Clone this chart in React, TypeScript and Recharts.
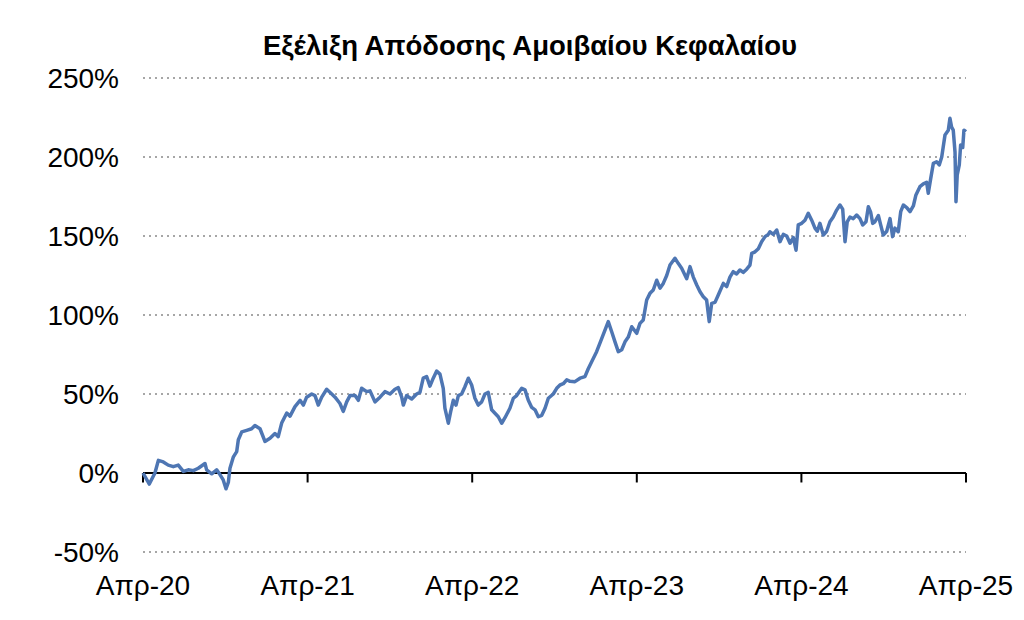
import { LineChart, Line, XAxis, YAxis, CartesianGrid, ReferenceLine } from "recharts";

const title = "Εξέλιξη Απόδοσης Αμοιβαίου Κεφαλαίου";

// months since Apr-20
const months = [
  0, 0.46, 0.87, 1.12, 1.48, 1.84, 2.21, 2.57, 2.94, 3.3, 3.67, 4.03, 4.52, 4.64, 5.01, 5.37, 5.61, 5.85, 6.05, 6.22,
  6.34, 6.58, 6.83, 6.95, 7.2, 7.56, 7.92, 8.16, 8.53, 8.89, 9.26, 9.62, 9.86, 10.11, 10.48,
  10.72, 11.08, 11.45, 11.69, 11.93, 12.3, 12.54, 12.78, 13.03, 13.39, 13.76, 14.0, 14.36, 14.6, 14.85, 15.09, 15.46,
  15.7, 15.94, 16.31, 16.55, 16.91, 17.28, 17.64, 18.01, 18.37, 18.61, 18.86, 18.98, 19.22, 19.59, 19.95, 20.19, 20.43,
  20.68, 20.92, 21.16, 21.41, 21.65,
  21.89, 22.01, 22.26, 22.43, 22.62, 22.82, 22.99, 23.23, 23.47, 23.72, 23.96, 24.2, 24.44, 24.69, 24.93, 25.17, 25.42,
  25.66, 25.9, 26.15, 26.39, 26.75, 27.0, 27.24, 27.61, 27.85, 28.09, 28.34, 28.58, 28.82, 29.07, 29.31, 29.55, 29.91,
  30.16, 30.4, 30.64, 30.89,
  31.13, 31.49, 31.86, 32.22, 32.46, 32.71, 33.07, 33.44, 33.68, 33.92, 34.17, 34.41, 34.65, 34.9, 35.14, 35.38, 35.63,
  35.99, 36.23, 36.47, 36.72, 36.96, 37.2, 37.45, 37.69, 37.93, 38.18, 38.42, 38.78, 39.02, 39.27, 39.64, 39.88, 40.12,
  40.37, 40.61, 40.85, 41.09, 41.28, 41.46, 41.7, 41.94,
  42.31, 42.55, 42.79, 43.03, 43.28, 43.52, 43.76, 44.01, 44.25, 44.38, 44.62, 44.86, 45.1, 45.35, 45.59, 45.71, 45.95,
  46.2, 46.44, 46.68, 46.93, 47.17, 47.41, 47.61, 47.77, 48.02, 48.26, 48.5, 48.75, 48.99, 49.16, 49.35, 49.6, 49.84,
  50.08, 50.32, 50.57, 50.81,
  51.01, 51.18, 51.34, 51.54, 51.78, 52.03, 52.27, 52.47, 52.71, 52.88, 53.05, 53.2, 53.36, 53.61, 53.78, 53.97, 54.22,
  54.46, 54.65, 54.82, 55.06, 55.24, 55.43, 55.68, 55.92, 56.16, 56.35, 56.64, 56.89, 57.13, 57.25, 57.42, 57.62, 57.86,
  58.05, 58.23, 58.47, 58.71, 58.83, 58.95, 59.07, 59.2, 59.27, 59.36, 59.51, 59.61, 59.76, 59.85, 60,
];

// cumulative return, %
const returns = [
  0, -7, 0, 8, 7, 5, 4, 5, 1, 2, 1.5, 3, 6, 2, -0.5, 2, -1, -4.4, -10, -6,
  3, 10, 13.5, 21, 26, 27, 28, 30, 28, 20, 22, 25, 23, 31.6, 38,
  36, 42, 46, 43, 48, 50, 49, 43, 48, 53, 50, 48, 44, 39, 45, 49, 49,
  46, 53.6, 51.5, 52, 45, 48, 51.5, 50, 53, 54, 48, 43, 49, 46.8, 50, 51, 60,
  61, 55, 60, 64.5, 62.6,
  53.6, 41, 31.5, 38.8, 46, 43, 49, 50, 54.6, 60, 55.7, 47.3, 43, 45, 50, 51, 40,
  37.8, 35.6, 31.5, 35, 41, 47.3, 49, 53.6, 52.6, 46, 41.5, 40, 35.6, 36.5, 41, 47.3, 50,
  53.6, 55.7, 56.5, 59,
  58, 57.8, 60, 61, 66, 70.4, 76.8, 85, 90.5, 95.8, 89.4, 83, 76.8, 78, 83, 86, 92.6,
  88.4, 94.7, 96.8, 109.5, 113.7, 115.8, 122, 117, 120, 125, 131.6, 135.9, 132.7, 129.6, 123, 130.6, 124,
  119, 114.7, 111.6, 109.5, 95.8, 107.4, 108, 112.6,
  120, 118, 124, 127.4, 126, 128.5, 127, 129, 131.6, 139, 140, 142, 146.4, 149.6, 151, 152.7, 151,
  153.8, 146.4, 151, 150, 145.4, 149, 141, 157, 158, 160, 164.4, 160, 155, 153, 158, 150.6, 153,
  159, 162, 166.4, 169.6,
  167, 146.4, 159, 162, 161, 163.3, 161, 157, 159, 168.5, 165, 158, 159, 163, 157, 150.6, 153,
  161, 149.6, 155, 152.7, 165.4, 169.6, 168, 165.4, 169, 176, 181.2, 183, 184, 177, 186, 196, 197,
  195, 200, 214, 217, 224.5, 219, 217, 203, 171.7, 188.6, 195, 207.6, 206, 217, 216,
];

const xTicks = [0, 12, 24, 36, 48, 60];
const xTickLabels = ["Απρ-20", "Απρ-21", "Απρ-22", "Απρ-23", "Απρ-24", "Απρ-25"];
const yTicks = [-50, 0, 50, 100, 150, 200, 250];

const data = months.map((m, i) => ({ m, r: returns[i] }));

const font = "'Liberation Sans', Arial, sans-serif";

export default function App() {
  return (
    <div style={{ position: "relative", width: 1010, height: 610, fontFamily: font }}>
      <div
        style={{
          position: "absolute",
          left: 0,
          top: 22,
          width: 1044,
          textAlign: "center",
          fontWeight: "bold",
          fontSize: 27.5,
          lineHeight: "32px",
          color: "#000",
        }}
      >
        {title}
      </div>
      <LineChart width={1010} height={610} data={data} margin={{ top: 70, right: 52, left: 0, bottom: 26 }}>
        <CartesianGrid horizontal vertical={false} stroke="#a6a6a6" strokeDasharray="2 4" strokeWidth={2} />
        <XAxis
          dataKey="m"
          type="number"
          domain={[0, 60]}
          ticks={xTicks}
          tickFormatter={(v: number) => xTickLabels[xTicks.indexOf(v)]}
          axisLine={false}
          tickLine={false}
          tickMargin={17}
          height={40}
          tick={{ fill: "#000", fontSize: 28, fontFamily: font }}
          interval={0}
        />
        <YAxis
          type="number"
          domain={[-50, 250]}
          ticks={yTicks}
          tickFormatter={(v: number) => `${v}%`}
          axisLine={false}
          tickLine={false}
          tickMargin={18}
          width={135}
          tick={{ fill: "#000", fontSize: 28, fontFamily: font }}
          interval={0}
        />
        <ReferenceLine y={0} stroke="#000" strokeWidth={2} />
        {xTicks.map((t) => (
          <ReferenceLine
            key={t}
            segment={[
              { x: t, y: 0 },
              { x: t, y: -6 },
            ]}
            stroke="#000"
            strokeWidth={2}
          />
        ))}
        <Line
          type="linear"
          dataKey="r"
          stroke="#4e76b3"
          strokeWidth={3.5}
          dot={false}
          isAnimationActive={false}
          strokeLinejoin="round"
        />
      </LineChart>
    </div>
  );
}
